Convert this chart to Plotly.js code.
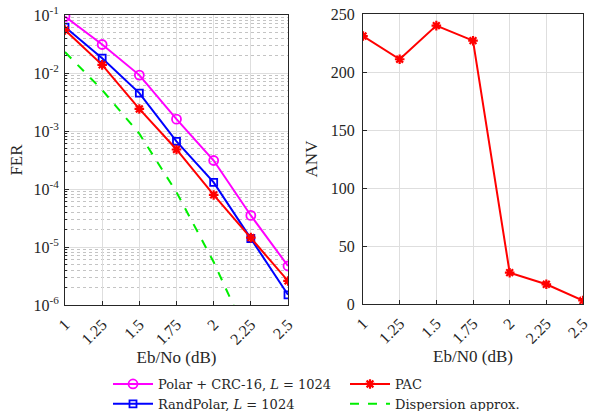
<!DOCTYPE html>
<html>
<head>
<meta charset="utf-8">
<script src="https://cdn.plot.ly/plotly-3.0.1.min.js"></script>
<style>html,body{margin:0;padding:0;background:#fff;}#chart{width:592px;height:411px;}</style>
</head>
<body>
<div id="chart"></div>
<script>
const ebno = [1, 1.25, 1.5, 1.75, 2, 2.25, 2.5];
const ferPolarCRC = [0.094, 0.031, 0.0092, 0.0016, 3.1e-4, 3.5e-5, 4.7e-6];
const ferRandPolar = [0.062, 0.018, 0.0045, 6.6e-4, 1.3e-4, 1.4e-5, 1.5e-6];
const ferPAC = [0.055, 0.0138, 0.0024, 4.8e-4, 7.9e-5, 1.45e-5, 2.6e-6];
const ebnoDisp = [1, 1.25, 1.5, 1.75, 2, 2.25];
const ferDispersion = [0.023, 0.0051, 9.0e-4, 8.8e-5, 5.5e-6, 2.2e-7];
const anvPAC = [231, 211, 240, 227, 27, 17, 3];
const xTicks = [1, 1.25, 1.5, 1.75, 2, 2.25, 2.5];
const xTickText = ['1', '1.25', '1.5', '1.75', '2', '2.25', '2.5'];
const yLogTicks = [1e-6, 1e-5, 1e-4, 1e-3, 1e-2, 1e-1];
const yLogText = ['10<sup>-6</sup>', '10<sup>-5</sup>', '10<sup>-4</sup>', '10<sup>-3</sup>', '10<sup>-2</sup>', '10<sup>-1</sup>'];

const serif = 'Liberation Serif, Times New Roman, serif';
const legFont = 'DejaVu Serif, serif';
const axisCol = '#262626';
const gridCol = '#dedede';

// minor log grid positions (2..9 within each decade)
const minorVals = [];
for (let e = -6; e < -1; e++) {
  for (let m = 2; m <= 9; m++) minorVals.push(m * Math.pow(10, e));
}

const traces = [
  {x: ebno, y: ferPolarCRC, name: 'Polar + CRC-16, <i>L</i> = 1024', mode: 'lines+markers',
   line: {color: '#ff00ff', width: 2}, marker: {symbol: 'circle-open', size: 9, color: '#ff00ff', line: {width: 1.8}},
   xaxis: 'x', yaxis: 'y', legend: 'legend'},
  {x: ebno, y: ferRandPolar, name: 'RandPolar, <i>L</i> = 1024', mode: 'lines+markers',
   line: {color: '#0000ff', width: 2}, marker: {symbol: 'square-open', size: 7, color: '#0000ff', line: {width: 1.8}},
   xaxis: 'x', yaxis: 'y', legend: 'legend'},
  {x: ebno, y: ferPAC, name: 'PAC', mode: 'lines+markers',
   line: {color: '#ff0000', width: 2}, marker: {symbol: 'asterisk-open', size: 8, color: '#ff0000', line: {width: 2.2, color: '#ff0000'}},
   xaxis: 'x', yaxis: 'y', legend: 'legend2'},
  {x: ebnoDisp, y: ferDispersion, name: 'Dispersion approx.', mode: 'lines',
   line: {color: '#00ee00', width: 2, dash: 'dash'},
   xaxis: 'x', yaxis: 'y', legend: 'legend2'},
  {x: ebno, y: anvPAC, name: 'PAC ANV', mode: 'lines+markers', showlegend: false,
   line: {color: '#ff0000', width: 2}, marker: {symbol: 'asterisk-open', size: 8, color: '#ff0000', line: {width: 2.2, color: '#ff0000'}},
   xaxis: 'x2', yaxis: 'y2'}
];

const commonX = {
  range: [1, 2.5], tickvals: xTicks, ticktext: xTickText, tickangle: -45, automargin: false,
  showline: true, linecolor: axisCol, linewidth: 1, mirror: true,
  ticks: 'inside', ticklen: 4, tickcolor: axisCol, ticklabelstandoff: 3,
  showgrid: true, gridcolor: gridCol, zeroline: false,
  tickfont: {family: serif, size: 16, color: axisCol}
};

const layout = {
  width: 592, height: 411,
  margin: {l: 0, r: 0, t: 0, b: 0, autoexpand: false},
  paper_bgcolor: '#ffffff', plot_bgcolor: '#ffffff',
  font: {family: serif, color: axisCol},
  xaxis: Object.assign({}, commonX, {domain: [65/592, 288/592], anchor: 'y',
    title: {text: 'Eb/No (dB)', font: {family: serif, size: 17, color: axisCol}, standoff: 3}}),
  yaxis: {type: 'log', range: [-6, -1], domain: [1 - 305/411, 1 - 15/411], anchor: 'x', automargin: false,
    tickvals: yLogTicks, ticktext: yLogText,
    showline: true, linecolor: axisCol, linewidth: 1, mirror: true,
    ticks: 'inside', ticklen: 4, tickcolor: axisCol, ticklabelstandoff: 2,
    showgrid: true, gridcolor: gridCol, zeroline: false,
    minor: {tickmode: 'array', tickvals: minorVals, showgrid: true, gridcolor: '#c4c4c4', griddash: 'dot',
            ticks: 'inside', ticklen: 2, tickcolor: axisCol},
    tickfont: {family: serif, size: 16, color: axisCol},
    title: {text: 'FER', font: {family: serif, size: 17, color: axisCol}, standoff: 6}},
  xaxis2: Object.assign({}, commonX, {domain: [363/592, 583/592], anchor: 'y2',
    title: {text: 'Eb/N0 (dB)', font: {family: serif, size: 17, color: axisCol}, standoff: 3}}),
  yaxis2: {range: [0, 250], dtick: 50, domain: [1 - 304/411, 1 - 14/411], anchor: 'x2', automargin: false,
    showline: true, linecolor: axisCol, linewidth: 1, mirror: true,
    ticks: 'inside', ticklen: 4, tickcolor: axisCol, ticklabelstandoff: 4,
    showgrid: true, gridcolor: gridCol, zeroline: false,
    tickfont: {family: serif, size: 16, color: axisCol},
    title: {text: 'ANV', font: {family: serif, size: 17, color: axisCol}, standoff: 8}},
  legend: {x: 108/592, y: 1 - 369/411, xanchor: 'left', yanchor: 'top', orientation: 'v',
    bgcolor: 'rgba(255,255,255,0)', borderwidth: 0, tracegroupgap: 0, itemwidth: 40,
    font: {family: legFont, size: 13, color: axisCol}},
  legend2: {x: 345/592, y: 1 - 369/411, xanchor: 'left', yanchor: 'top', orientation: 'v',
    bgcolor: 'rgba(255,255,255,0)', borderwidth: 0, tracegroupgap: 0, itemwidth: 40,
    font: {family: legFont, size: 13, color: axisCol}},
  showlegend: true
};

Plotly.newPlot('chart', traces, layout, {staticPlot: true, displayModeBar: false});
</script>
</body>
</html>
